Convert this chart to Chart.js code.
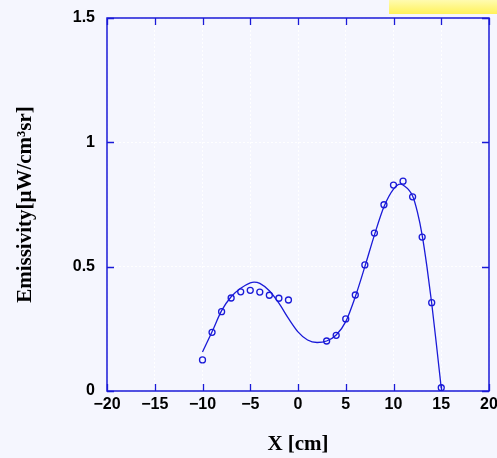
<!DOCTYPE html>
<html>
<head>
<meta charset="utf-8">
<script src="https://cdn.jsdelivr.net/npm/chart.js@4/dist/chart.umd.min.js"></script>
<style>
  html, body { margin: 0; padding: 0; background: #f5f6fe; }
  #wrap { width: 497px; height: 458px; position: relative; }
</style>
</head>
<body>
<div id="wrap"><canvas id="c" width="497" height="458"></canvas></div>
<script>
// Measured points
const pointX = [-10, -9, -8, -7, -6, -5, -4, -3, -2, -1, 3, 4, 5, 6, 7, 8, 9, 10, 11, 12, 13, 14, 15];
const pointY = [0.125, 0.236, 0.319, 0.374, 0.399, 0.405, 0.398, 0.385, 0.373, 0.366, 0.201, 0.224, 0.29, 0.386, 0.507, 0.635, 0.749, 0.828, 0.844, 0.781, 0.619, 0.355, 0.013];
// Fitted curve
const fitX = [-10, -9, -8, -7, -6, -5, -4.6, -4, -3, -2, -1, 0, 1, 2, 3, 4, 5, 6, 7, 8, 9, 10, 10.7, 11, 12, 12.5, 13, 13.5, 14, 14.5, 15];
const fitY = [0.157, 0.238, 0.323, 0.379, 0.413, 0.435, 0.438, 0.433, 0.403, 0.353, 0.292, 0.238, 0.205, 0.195, 0.201, 0.225, 0.279, 0.379, 0.5, 0.627, 0.741, 0.812, 0.832, 0.828, 0.784, 0.72, 0.627, 0.5, 0.353, 0.185, 0.011];
// Axis ticks
const xTicks = [-20, -15, -10, -5, 0, 5, 10, 15, 20];
const yTicks = [0, 0.5, 1, 1.5];
const xTitle = 'X [cm]';
const yTitle = 'Emissivity[\u03BCW/cm\u00B3sr]';

const BLUE = '#1a1ad8';

const frame = {
  id: 'frame',
  beforeDraw(chart) {
    const ctx = chart.ctx;
    ctx.save();
    ctx.fillStyle = '#f5f6fe';
    ctx.fillRect(0, 0, chart.width, chart.height);
    const g = ctx.createLinearGradient(0, 0, 0, 14);
    g.addColorStop(0, '#fffbb0');
    g.addColorStop(1, '#fff25a');
    ctx.fillStyle = g;
    ctx.fillRect(389, 0, 108, 14);
    ctx.restore();
  },
  afterDatasetsDraw(chart) {
    const {ctx, chartArea: a, scales: {x, y}} = chart;
    ctx.save();
    ctx.strokeStyle = BLUE;
    ctx.lineWidth = 1.5;
    ctx.strokeRect(a.left, a.top, a.right - a.left, a.bottom - a.top);
    ctx.lineWidth = 1.3;
    ctx.beginPath();
    xTicks.forEach(v => {
      const px = Math.round(x.getPixelForValue(v)) + 0.5;
      ctx.moveTo(px, a.bottom); ctx.lineTo(px, a.bottom - 7);
      ctx.moveTo(px, a.top); ctx.lineTo(px, a.top + 7);
    });
    yTicks.forEach(v => {
      const py = Math.round(y.getPixelForValue(v)) + 0.5;
      ctx.moveTo(a.left, py); ctx.lineTo(a.left + 7, py);
      ctx.moveTo(a.right, py); ctx.lineTo(a.right - 7, py);
    });
    ctx.stroke();
    ctx.restore();
  }
};

new Chart(document.getElementById('c'), {
  type: 'scatter',
  data: {
    datasets: [
      {
        type: 'line',
        data: fitX.map((v, i) => ({x: v, y: fitY[i]})),
        borderColor: BLUE,
        borderWidth: 1.3,
        pointRadius: 0,
        cubicInterpolationMode: 'monotone',
        fill: false
      },
      {
        data: pointX.map((v, i) => ({x: v, y: pointY[i]})),
        borderColor: BLUE,
        backgroundColor: 'rgba(0,0,0,0)',
        borderWidth: 1.3,
        pointRadius: 3,
        pointStyle: 'circle'
      }
    ]
  },
  options: {
    responsive: false,
    animation: false,
    devicePixelRatio: 1,
    layout: { padding: { top: 18, right: 8, left: 0, bottom: 0 } },
    plugins: { legend: { display: false }, tooltip: { enabled: false } },
    scales: {
      x: {
        type: 'linear',
        min: -20, max: 20,
        afterBuildTicks: s => { s.ticks = xTicks.map(v => ({value: v})); },
        afterFit: s => { s.height = 67; s.paddingLeft = 0; s.paddingRight = 0; },
        ticks: {
          color: '#000',
          font: { family: '"Liberation Sans", Arial, sans-serif', size: 16, weight: 'bold' },
          padding: 4,
          maxRotation: 0,
          callback: v => (v < 0 ? '\u2212' + Math.abs(v) : String(v))
        },
        grid: { color: 'rgba(255,255,255,0.95)', lineWidth: 1, drawTicks: false },
        border: { display: false, dash: [2, 2] },
        title: {
          display: true, text: xTitle, color: '#000',
          font: { family: '"Liberation Serif", "Times New Roman", serif', size: 21, weight: 'bold' },
          padding: { top: 1, bottom: 1 }
        }
      },
      y: {
        type: 'linear',
        min: 0, max: 1.5,
        afterBuildTicks: s => { s.ticks = yTicks.map(v => ({value: v})); },
        afterFit: s => { s.width = 107; s.paddingTop = 0; s.paddingBottom = 0; },
        ticks: {
          color: '#000',
          font: { family: '"Liberation Sans", Arial, sans-serif', size: 16, weight: 'bold' },
          padding: 12,
          callback: v => String(v)
        },
        grid: { color: 'rgba(255,255,255,0.95)', lineWidth: 1, drawTicks: false },
        border: { display: false, dash: [2, 2] },
        title: {
          display: true, text: yTitle, color: '#000',
          font: { family: '"Liberation Serif", "Times New Roman", serif', size: 21, weight: 'bold' },
          padding: { top: 13, bottom: 0 }
        }
      }
    }
  },
  plugins: [frame]
});
</script>
</body>
</html>
